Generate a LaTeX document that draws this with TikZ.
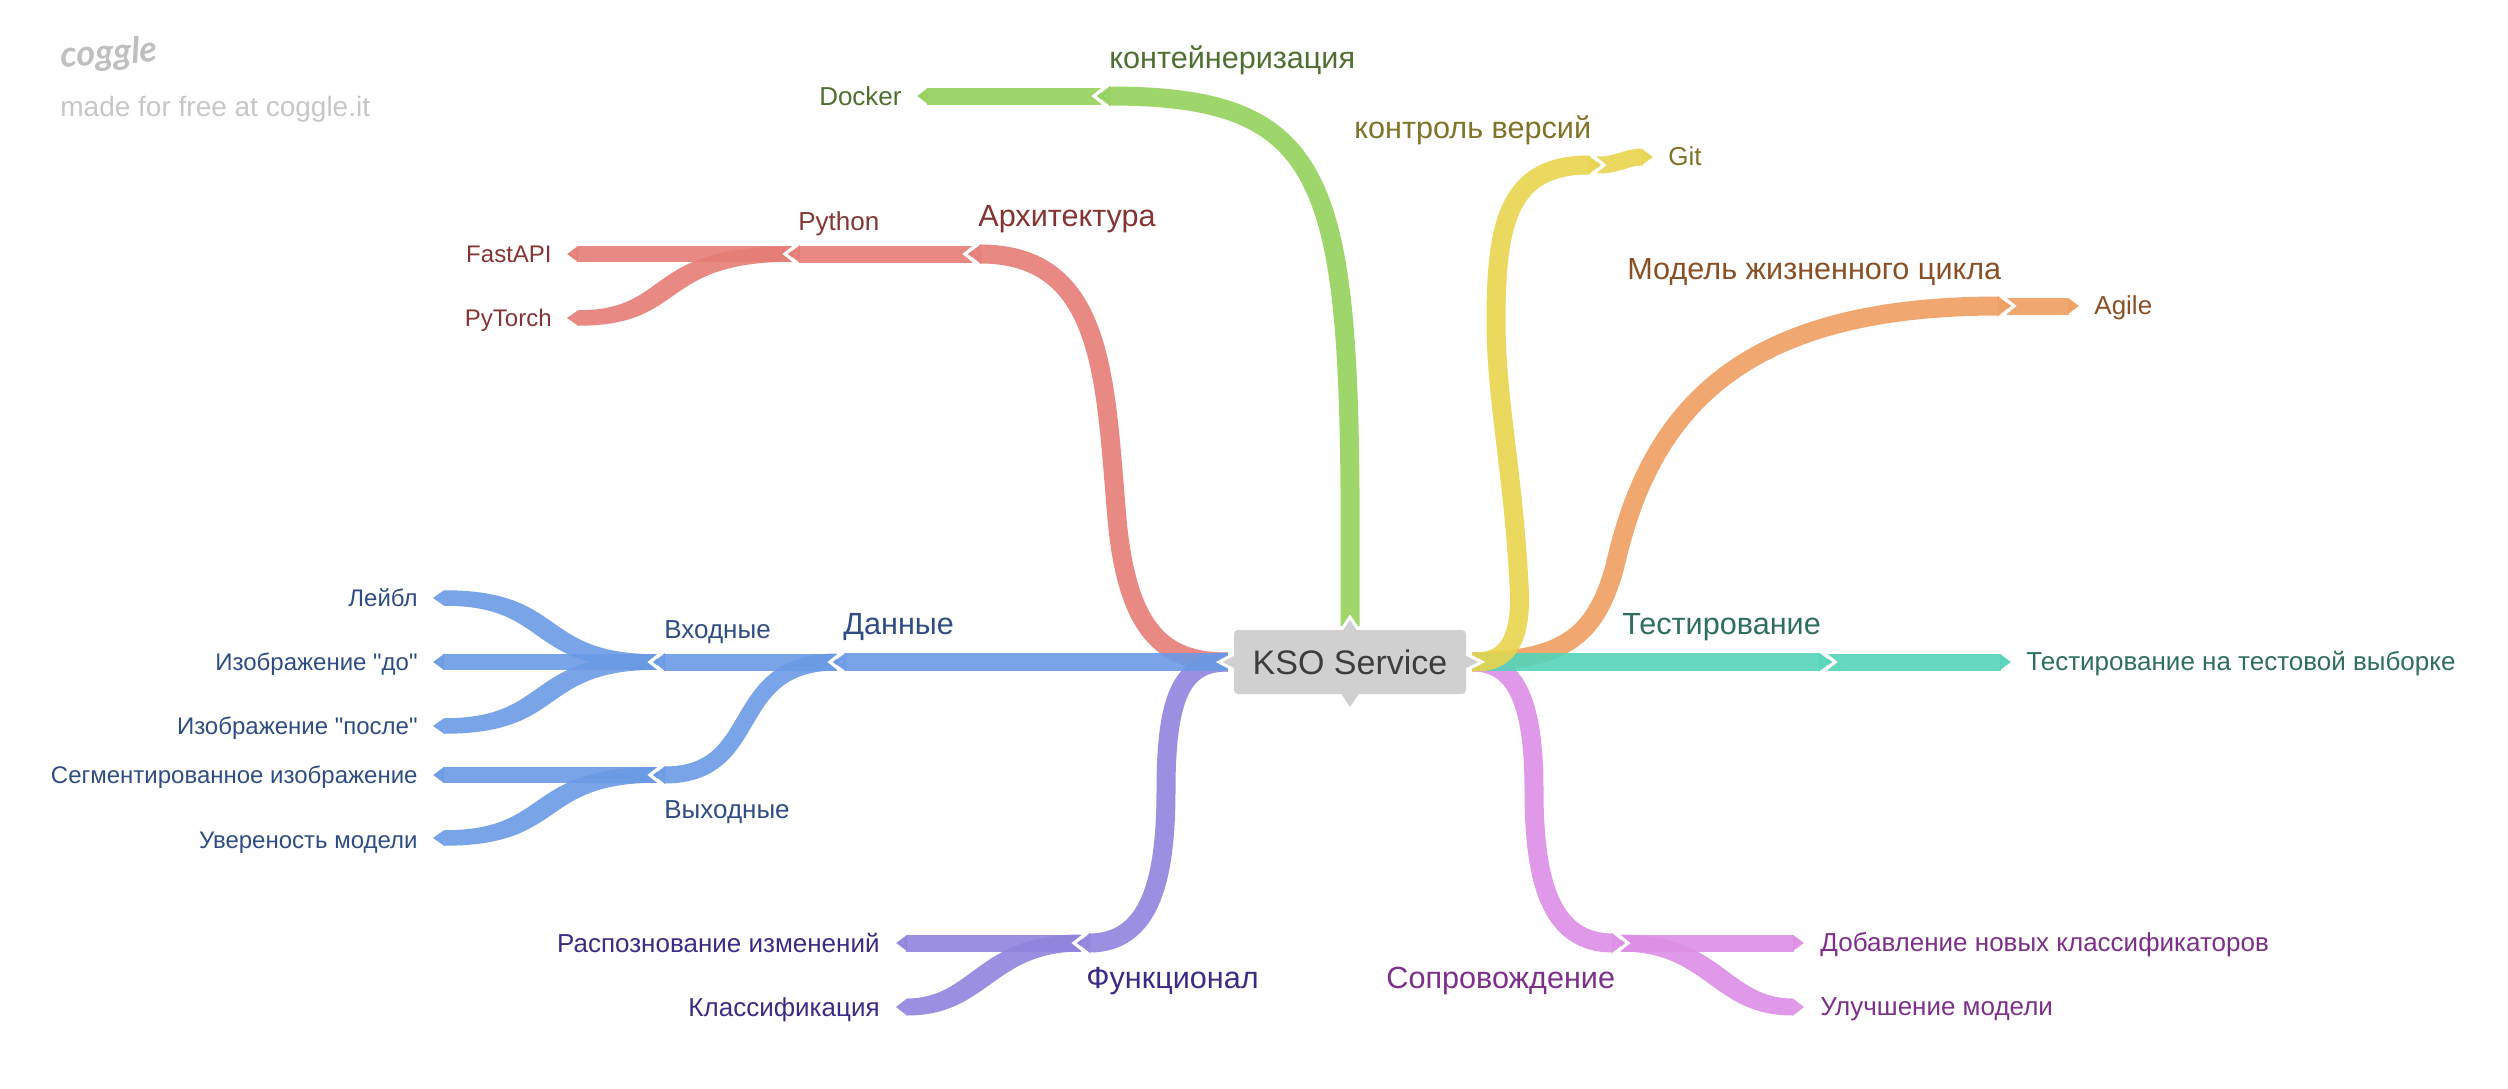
\documentclass[tikz,border=0pt]{standalone}
\usepackage{fontspec}
\setmainfont{Liberation Sans}[Ligatures=TeXOff]
\newfontfamily\logofont{Lato}
\usetikzlibrary{arrows.meta,calc}
\definecolor{cgreen}{HTML}{95D15C}\definecolor{tgreen}{HTML}{4F6F30}
\definecolor{cred}{HTML}{E57D76}\definecolor{tred}{HTML}{853434}
\definecolor{cblue}{HTML}{6A9AE4}\definecolor{tblue}{HTML}{2F4D82}
\definecolor{cyellow}{HTML}{E8D44E}\definecolor{tyellow}{HTML}{7F7428}
\definecolor{corange}{HTML}{EE9E60}\definecolor{torange}{HTML}{8A4F24}
\definecolor{cteal}{HTML}{55D4B9}\definecolor{tteal}{HTML}{2E6E60}
\definecolor{cpink}{HTML}{DD8DE5}\definecolor{tpink}{HTML}{7D308A}
\definecolor{cpurple}{HTML}{8F83DD}\definecolor{tpurple}{HTML}{3A2C85}
\definecolor{cgrey}{HTML}{D0D0D0}
\tikzset{
 bone/.style={draw=#1,opacity=.9,line cap=butt},
 leafshape/.style={fill=#1,opacity=.9},
 lone/.style={line width=9.5pt},
 lstraight/.style={line width=9pt},
 ltwo/.style={line width=8.5pt},
 lthree/.style={line width=7.75pt},
 tipone/.style={-{Triangle[length=6.5pt,width=9.5pt]}},
 tipstraight/.style={-{Triangle[length=6.5pt,width=9pt]}},
 tiptwo/.style={-{Triangle[length=6pt,width=8.5pt]}},
 tipthree/.style={-{Triangle[length=5.5pt,width=7.75pt]}},
 chevron/.style={draw=white,line width=1.6pt,miter limit=10},
 big/.style={inner sep=0,font=\fontsize{15.3}{18}\selectfont,text=#1},
 mid/.style={inner sep=0,font=\fontsize{13}{15}\selectfont,text=#1},
 small/.style={inner sep=0,font=\fontsize{12}{15}\selectfont,text=#1},
 rootbox/.style={fill=cgrey,rounded corners=2pt,minimum width=116pt,minimum height=32pt,inner sep=0,text=black!76,font=\fontsize{17}{20}\selectfont},
 rootpeak/.style={fill=cgrey,draw=white,line width=1.5pt},
 logo/.style={inner sep=0,text=#1},
}
\newcommand\chevL[1]{\draw[chevron] ($(#1)+(9,-9.5)$) -- ($(#1)+(-3,0)$) -- ($(#1)+(9,9.5)$);}
\newcommand\chevR[1]{\draw[chevron] ($(#1)+(-9,-9.5)$) -- ($(#1)+(3,0)$) -- ($(#1)+(-9,9.5)$);}
% colour, start, control 1, control 2, end, width, side of the swell, tip length
\newcommand\leafcurve[8]{\fill[leafshape=#1]
 ($(#2)+(0,-.5*#6)$) .. controls ($(#3)+(#7*8,-.5*#6)$) and ($(#4)+(#7*8,-.5*#6)$) .. ($(#5)+(#8,-.5*#6)$)
 -- (#5) -- ($(#5)+(#8,.5*#6)$) .. controls ($(#4)+(-#7*8,.5*#6)$) and ($(#3)+(-#7*8,.5*#6)$) .. ($(#2)+(0,.5*#6)$) -- cycle;}
\begin{document}
\begin{tikzpicture}[x=.5pt,y=-.5pt]
\useasboundingbox (0,0) rectangle (2508,1088);
% junctions and free ends
\coordinate (rootL) at (1228,662);
\coordinate (rootR) at (1472,662);
\coordinate (rootT) at (1350,626);
\coordinate (jDocker) at (1097,96);
\coordinate (eDocker) at (917,96);
\coordinate (jArch) at (968,254);
\coordinate (jPy) at (788,254);
\coordinate (sPy) at (792,254);
\coordinate (eFast) at (567,254);
\coordinate (ePyt) at (567,318);
\coordinate (jData) at (833,662);
\coordinate (jIn) at (653,662);
\coordinate (sIn) at (657,662);
\coordinate (jOut) at (653,775);
\coordinate (sOut) at (657,775);
\coordinate (eLab) at (433,598);
\coordinate (eBef) at (433,662);
\coordinate (eAft) at (433,726);
\coordinate (eSeg) at (433,775);
\coordinate (eConf) at (433,838);
\coordinate (jFunc) at (1077,943);
\coordinate (sFunc) at (1081,943);
\coordinate (eRec) at (896,943);
\coordinate (eCls) at (896,1007);
\coordinate (jGit) at (1601,165);
\coordinate (eGit) at (1653,157);
\coordinate (jLife) at (2011,306);
\coordinate (eAgile) at (2079,306);
\coordinate (jTest) at (1832,662);
\coordinate (eTest) at (2011,662);
\coordinate (jSup) at (1625,943);
\coordinate (sSup) at (1621,943);
\coordinate (eAdd) at (1804,943);
\coordinate (eImp) at (1804,1007);
% level 3 and leaves
\draw[bone=cgreen,ltwo,tipthree] ($(jDocker)+(4,0)$) -- (eDocker);
\draw[bone=cred,lthree,tipthree] (sPy) -- (eFast);
\leafcurve{cred}{sPy}{650,254}{680,318}{ePyt}{15.5}{-1}{11}
\draw[bone=cred,ltwo,tiptwo] ($(jArch)+(4,0)$) -- (jPy);
\chevL{jPy}
\leafcurve{cblue}{sIn}{530,662}{560,598}{eLab}{15.5}{1}{11}
\draw[bone=cblue,lthree,tipthree] (sIn) -- (eBef);
\leafcurve{cblue}{sIn}{530,662}{560,726}{eAft}{15.5}{-1}{11}
\draw[bone=cblue,lthree,tipthree] (sOut) -- (eSeg);
\leafcurve{cblue}{sOut}{530,775}{560,838}{eConf}{15.5}{-1}{11}
\draw[bone=cblue,ltwo,tiptwo] ($(jData)+(4,0)$) -- (jIn);
\draw[bone=cblue,ltwo,tiptwo] ($(jData)+(4,0)$) .. controls (725,662) and (765,775) .. (jOut);
\chevL{jIn}\chevL{jOut}
\draw[bone=cpurple,ltwo,tipthree] (sFunc) -- (eRec);
\leafcurve{cpurple}{sFunc}{985,943}{980,1007}{eCls}{17}{-1}{11}
\draw[bone=cyellow,ltwo,tipthree] ($(jGit)+(-4,0)$) .. controls (1620,165) and (1625,157) .. (eGit);
\draw[bone=corange,ltwo,tipthree] ($(jLife)+(-4,0)$) -- (eAgile);
\draw[bone=cteal,ltwo,tipthree] ($(jTest)+(-4,0)$) -- (eTest);
\draw[bone=cpink,ltwo,tipthree] (sSup) -- (eAdd);
\leafcurve{cpink}{sSup}{1715,943}{1720,1007}{eImp}{17}{1}{-11}
% level 1
\draw[bone=cgreen,lone,tipone] (rootT) .. controls (1352,190) and (1345,96) .. (jDocker);
\draw[bone=cred,lone,tipone] (rootL) .. controls (1170,662) and (1128,640) .. (1117,519) .. controls (1105,380) and (1105,254) .. (jArch);
\draw[bone=cpurple,lone,tipone] (rootL) .. controls (1185,662) and (1166,690) .. (1166,790) .. controls (1166,880) and (1150,943) .. (jFunc);
\draw[bone=cblue,lstraight,tipstraight] (rootL) -- (jData);
\draw[bone=corange,lone,tipone] (rootR) .. controls (1560,660) and (1595,640) .. (1615,566) .. controls (1650,410) and (1740,306) .. (jLife);
\draw[bone=cpink,lone,tipone] (rootR) .. controls (1510,662) and (1534,690) .. (1534,790) .. controls (1534,880) and (1550,943) .. (jSup);
\draw[bone=cteal,lstraight,tipstraight] (rootR) -- (jTest);
\draw[bone=cyellow,lone,tipone] (rootR) .. controls (1492,662) and (1524,660) .. (1519,584) .. controls (1513,470) and (1496,400) .. (1496,320) .. controls (1496,220) and (1510,165) .. (jGit);
\chevL{jDocker}\chevL{jArch}\chevL{jData}\chevL{jFunc}
\chevR{jGit}\chevR{jLife}\chevR{jTest}\chevR{jSup}
% root
\draw[rootpeak] (1340,632) -- (1350,617) -- (1360,632) -- cycle;
\draw[rootpeak] (1238,652) -- (1219,662) -- (1238,672) -- cycle;
\draw[rootpeak] (1462,652) -- (1482,662) -- (1462,672) -- cycle;
\fill[cgrey] (1340,692) -- (1350,707) -- (1360,692) -- cycle;
\node[rootbox] (root) at (1350,662) {KSO Service};
% labels
\node[big=tgreen,anchor=base west] (lContainer) at (1109,68) {контейнеризация};
\node[mid=tgreen,anchor=base east] (lDocker) at (902,105) {Docker};
\node[big=tyellow,anchor=base west] (lVcs) at (1354,138) {контроль версий};
\node[mid=tyellow,anchor=base west] (lGit) at (1668,165) {Git};
\node[big=torange,anchor=base west] (lLife) at (1627,279) {Модель жизненного цикла};
\node[mid=torange,anchor=base west] (lAgile) at (2094,314) {Agile};
\node[big=tred,anchor=base west] (lArch) at (978,226) {Архитектура};
\node[mid=tred,anchor=base west] (lPy) at (798,230) {Python};
\node[small=tred,anchor=base east] (lFast) at (552,262) {FastAPI};
\node[small=tred,anchor=base east] (lPyt) at (552,326) {PyTorch};
\node[big=tblue,anchor=base west] (lData) at (843,634) {Данные};
\node[mid=tblue,anchor=base west] (lIn) at (664,638) {Входные};
\node[mid=tblue,anchor=base west] (lOut) at (664,818) {Выходные};
\node[small=tblue,anchor=base east] (lLab) at (418,606) {Лейбл};
\node[small=tblue,anchor=base east] (lBef) at (418,670) {Изображение "до"};
\node[small=tblue,anchor=base east] (lAft) at (418,734) {Изображение "после"};
\node[small=tblue,anchor=base east] (lSeg) at (418,783) {Сегментированное изображение};
\node[small=tblue,anchor=base east] (lConf) at (418,848) {Увереность модели};
\node[big=tteal,anchor=base west] (lTest) at (1622,634) {Тестирование};
\node[mid=tteal,anchor=base west] (lTestS) at (2026,670) {Тестирование на тестовой выборке};
\node[big=tpurple,anchor=base west] (lFunc) at (1086,988) {Функционал};
\node[mid=tpurple,anchor=base east] (lRec) at (880,952) {Распознование изменений};
\node[mid=tpurple,anchor=base east] (lCls) at (880,1016) {Классификация};
\node[big=tpink,anchor=base west] (lSup) at (1386,988) {Сопровождение};
\node[mid=tpink,anchor=base west] (lAdd) at (1820,951) {Добавление новых классификаторов};
\node[mid=tpink,anchor=base west] (lImp) at (1820,1015) {Улучшение модели};
% logo
\node[logo=black!25,anchor=base west,font=\logofont\bfseries\itshape\fontsize{18}{22}\selectfont,rotate=4] (logo) at (61,68) {coggle};
\node[logo=black!22,anchor=base west,font=\fontsize{14}{17}\selectfont] (made) at (60,116) {made for free at coggle.it};
\end{tikzpicture}
\end{document}
